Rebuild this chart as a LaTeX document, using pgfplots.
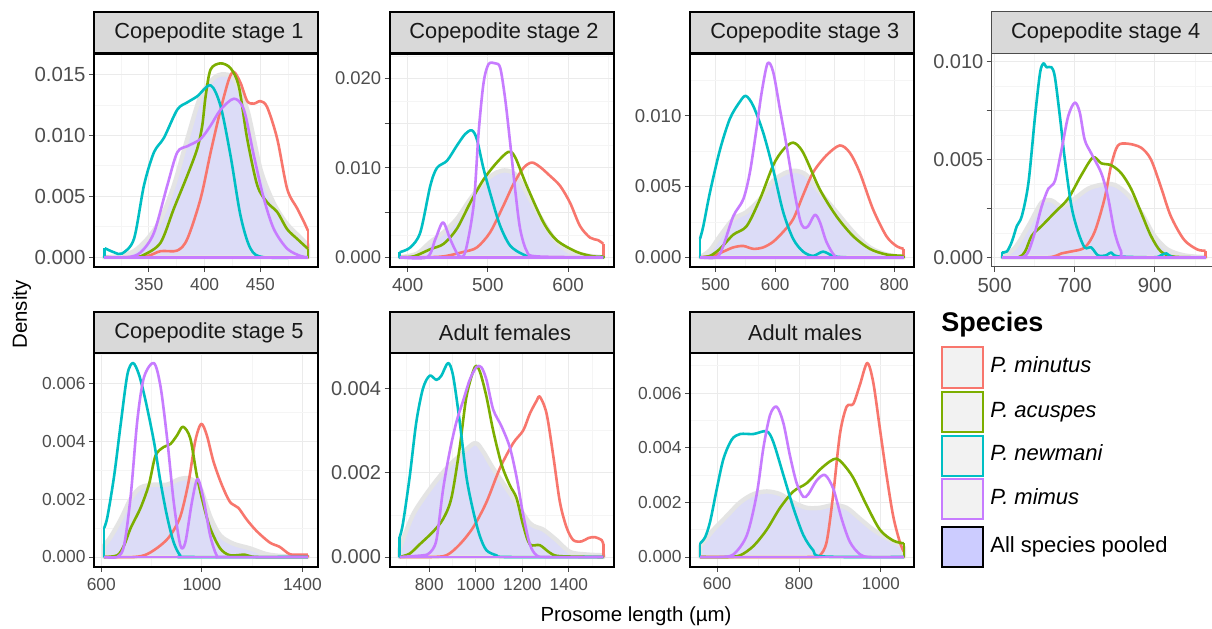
\documentclass[border=0pt]{standalone}
\usepackage{fontspec}
\setmainfont{Liberation Sans}
\usepackage{pgfplots}
\pgfplotsset{compat=1.18}
\definecolor{cmin}{HTML}{F8766D}
\definecolor{cacu}{HTML}{7CAE00}
\definecolor{cnew}{HTML}{00BFC4}
\definecolor{cmim}{HTML}{C77CFF}
\definecolor{lav}{HTML}{DCDCF7}
\definecolor{band}{HTML}{E4E4E4}
\definecolor{stripc}{HTML}{D9D9D9}
\definecolor{tickc}{HTML}{4D4D4D}
\definecolor{gridmaj}{HTML}{EBEBEB}
\definecolor{gridmin}{HTML}{F5F5F5}
\definecolor{keyfill}{HTML}{F2F2F2}
\definecolor{poolkey}{HTML}{CCCCFF}
\pgfplotsset{
  panel/.style={
    scale only axis, width=112pt, height=106.7pt, anchor=south west,
    axis line style={line width=1pt, black},
    tick align=outside, xtick pos=bottom, ytick pos=left,
    major tick length=2.5pt, minor tick length=0pt,
    tick style={line width=0.5pt, color=tickc},
    grid=both,
    major grid style={line width=0.5pt, color=gridmaj},
    minor grid style={line width=0.3pt, color=gridmin},
    scaled ticks=false,
    tick label style={color=tickc},
    xticklabel style={inner sep=3pt},
    yticklabel style={inner sep=1.5pt},
  },
  xf/.style={xticklabel style={font=\fontsize{#1}{12}\selectfont}},
  yf/.style={yticklabel style={font=\fontsize{#1}{12}\selectfont}},
  dens/.style={line width=1.3pt, line join=round},
  top/.style={dens, smooth, tension=0.5},
  pooled/.style={fill=lav, draw=band, line width=2.2pt, line join=round, smooth, tension=0.5},
}
\begin{document}
\begin{tikzpicture}
\useasboundingbox (0,0) rectangle (606pt,314pt);
\fill[white] (0,0) rectangle (606pt,314pt);

% ---------- Panel 1 ----------
\begin{axis}[panel, xf=8.7, yf=10.2, at={(47pt,180.5pt)},
  xmin=300.9, xmax=501.6, ymin=-0.0008, ymax=0.0167,
  xtick={350,400,450}, xticklabels={350,400,450}, minor xtick={325,375,425,475},
  ytick={0,0.005,0.01,0.015}, yticklabels={0.000,0.005,0.010,0.015}, minor ytick={0.0025,0.0075,0.0125}]
\addplot[pooled] coordinates {(310,0) (324,0.0001) (336.7,0.0005) (348.7,0.0015) (360.6,0.0031) (372.5,0.0059) (384.5,0.0097) (396.4,0.0132) (408.4,0.0147) (417.3,0.015) (426.3,0.0146) (438.2,0.0121) (450.1,0.0072) (462.1,0.0044) (474,0.0027) (486,0.0016) (492.5,0.001)} \closedcycle;
\addplot[top, cmin] coordinates {(310,0) (330,0) (348.7,0.0001) (360.6,0.0005) (375.5,0.00055) (384.5,0.0015) (396.4,0.0048) (405.4,0.0086) (414.3,0.0121) (421.8,0.0146) (426.3,0.0152) (432.2,0.0143) (438.2,0.0128) (444.2,0.0126) (450.1,0.0128) (456.1,0.0123) (465.1,0.0097) (474,0.0056) (483,0.004) (489,0.0029) (492.5,0.0022)};
\addplot[dens, cmin] coordinates {(492.5,0.0022) (492.5,0) (310,0)};
\addplot[top, cacu] coordinates {(310,0) (336.7,0) (345.7,0.0002) (360.6,0.0012) (372.5,0.004) (384.5,0.0067) (393.4,0.0089) (397.9,0.0108) (400.9,0.0132) (405.4,0.0154) (414.3,0.0159) (423.3,0.0155) (430.7,0.014) (438.2,0.0097) (447.2,0.0059) (456.1,0.0045) (465.1,0.0037) (474,0.0023) (483,0.0015) (492.5,0.0007)};
\addplot[dens, cacu] coordinates {(492.5,0.0007) (492.5,0) (310,0)};
\addplot[top, cnew] coordinates {(310.5,0.00074) (319,0.0004) (326,0.0003) (336.7,0.0015) (345.7,0.0059) (354.6,0.0086) (363.6,0.0098) (375.5,0.0121) (384.5,0.0127) (393.4,0.0132) (405.4,0.0141) (414.3,0.0124) (423.3,0.0083) (432.2,0.0034) (441.2,0.0007) (453.1,0) (492.5,0)};
\addplot[dens, cnew] coordinates {(492.5,0) (310.5,0) (310.5,0.00074)};
\addplot[top, cmim] coordinates {(310,0) (330.7,0) (342.7,0.0004) (354.6,0.002) (366.6,0.0059) (375.5,0.0086) (384.5,0.0091) (396.4,0.0097) (405.4,0.0108) (414.3,0.0121) (426.3,0.013) (435.2,0.0121) (444.2,0.0083) (453.1,0.0048) (462.1,0.0023) (474,0.0007) (486,0.0001) (492.5,0)};
\addplot[dens, cmim] coordinates {(492.5,0) (310,0)};
\end{axis}

% ---------- Panel 2 ----------
\begin{axis}[panel, xf=9.4, yf=9.2, at={(194.75pt,180.5pt)},
  xmin=377.3, xmax=656.7, ymin=-0.00109, ymax=0.02279,
  xtick={400,500,600}, xticklabels={400,500,600}, minor xtick={450,550,650},
  ytick={0,0.005,0.01,0.015,0.02}, yticklabels={0.000,,0.010,,0.020}, minor ytick={0.0025,0.0075,0.0125,0.0175,0.0225}]
\addplot[pooled] coordinates {(390,0) (411.6,0.0004) (428.2,0.0017) (444.8,0.0028) (461.4,0.0043) (478,0.0065) (494.6,0.0084) (511.2,0.0095) (523.7,0.0097) (536.1,0.0091) (552.7,0.0065) (569.3,0.0039) (585.9,0.0017) (602.5,0.0006) (623.3,0.0002) (644,0)} \closedcycle;
\addplot[top, cmin] coordinates {(390,0) (420,0) (444.8,0.0001) (469.7,0.0006) (486.3,0.0011) (502.9,0.0028) (519.5,0.0058) (532,0.0082) (544.4,0.01) (554.8,0.0106) (565.1,0.0101) (577.6,0.0091) (590,0.008) (602.5,0.0061) (614.9,0.0035) (627.4,0.0022) (637.8,0.0019) (644,0.0015)};
\addplot[dens, cmin] coordinates {(644,0.0015) (644,0) (390,0)};
\addplot[top, cacu] coordinates {(390,0) (407.5,0.0001) (428.2,0.0009) (444.8,0.0015) (461.4,0.0032) (478,0.0061) (494.6,0.0087) (511.2,0.0106) (525.7,0.0118) (534,0.0112) (548.5,0.008) (569.3,0.0039) (585.9,0.0019) (610.8,0.0006) (631.5,0.0001) (644,0.0001)};
\addplot[dens, cacu] coordinates {(644,0.0001) (644,0) (390,0)};
\addplot[top, cnew] coordinates {(390,0.00056) (403.3,0.0011) (415.8,0.0028) (428.2,0.008) (436.5,0.01) (449,0.0108) (461.4,0.0125) (471.8,0.0138) (480.1,0.0142) (486.3,0.0132) (494.6,0.0099) (505,0.0065) (515.4,0.0035) (527.8,0.0013) (544.4,0.0003) (561,0) (644,0)};
\addplot[dens, cnew] coordinates {(644,0) (390,0) (390,0.00056)};
\addplot[top, cmim] coordinates {(390,0) (424,0) (434.4,0.002) (444,0.0039) (453.1,0.002) (463.5,0.0002) (471.8,0.0006) (482.2,0.0058) (488.4,0.0139) (494.6,0.0195) (500.8,0.0216) (509.1,0.0217) (515.4,0.0212) (521.6,0.0177) (527.8,0.0128) (534,0.0076) (540.2,0.0032) (548.5,0.0007) (561,0.0001) (644,0)};
\addplot[dens, cmim] coordinates {(644,0) (390,0)};
\end{axis}

% ---------- Panel 3 ----------
\begin{axis}[panel, xf=8.6, yf=9.3, at={(344.9pt,180.5pt)},
  xmin=456.6, xmax=832.7, ymin=-0.000685, ymax=0.01439,
  xtick={500,600,700,800}, xticklabels={500,600,700,800}, minor xtick={550,650,750},
  ytick={0,0.005,0.01}, yticklabels={0.000,0.005,0.010}, minor ytick={0.0025,0.0075,0.0125}]
\addplot[pooled] coordinates {(473.7,0) (490.5,0.0005) (507.3,0.0015) (529.6,0.0027) (552,0.0032) (574.3,0.0041) (596.6,0.0054) (619,0.006) (635.8,0.0061) (652.5,0.0058) (674.9,0.0046) (702.8,0.0032) (730.7,0.0018) (758.7,0.0007) (786.6,0.0002) (815.6,0)} \closedcycle;
\addplot[top, cmin] coordinates {(473.7,0) (496,0.0001) (512.8,0.0004) (529.6,0.0007) (546.4,0.0008) (563.1,0.0006) (579.9,0.0007) (596.6,0.0011) (613.4,0.0018) (630.2,0.0027) (646.9,0.0044) (663.7,0.006) (686,0.0072) (708.4,0.0079) (725.1,0.0074) (741.9,0.006) (764.2,0.0034) (786.6,0.0015) (803.4,0.0008) (815.6,0.0006)};
\addplot[dens, cmin] coordinates {(815.6,0.0006) (815.6,0) (473.7,0)};
\addplot[top, cacu] coordinates {(473.7,0) (490.5,0.0001) (507.3,0.0006) (529.6,0.0016) (552,0.0022) (574.3,0.0041) (596.6,0.0065) (613.4,0.0076) (630.2,0.0081) (646.9,0.0074) (674.9,0.0048) (702.8,0.0029) (730.7,0.0015) (758.7,0.0006) (786.6,0.0002) (815.6,0.0001)};
\addplot[dens, cacu] coordinates {(815.6,0.0001) (815.6,0) (473.7,0)};
\addplot[top, cnew] coordinates {(473.7,0.0013) (479.3,0.0022) (490.5,0.0046) (507.3,0.0076) (524,0.0098) (540.8,0.011) (550.8,0.0114) (563.1,0.0107) (579.9,0.0088) (596.6,0.0062) (613.4,0.0032) (630.2,0.0013) (646.9,0.0004) (663.7,0.0001) (680.4,0.0004) (697.2,0.0001) (719.6,0) (815.6,0)};
\addplot[dens, cnew] coordinates {(815.6,0) (473.7,0) (473.7,0.0013)};
\addplot[top, cmim] coordinates {(473.7,0) (501.7,0) (512.8,0.0008) (529.6,0.0029) (546.4,0.0041) (557.5,0.006) (568.7,0.0091) (577.1,0.0116) (587.2,0.0137) (596.6,0.0131) (607.8,0.0105) (619,0.0079) (630.2,0.0051) (641.3,0.0027) (648,0.0021) (655.3,0.0022) (666.5,0.003) (674.9,0.0025) (686,0.0011) (700,0.0001) (714,0) (815.6,0)};
\addplot[dens, cmim] coordinates {(815.6,0) (473.7,0)};
\end{axis}

% ---------- Panel 4 ----------
\begin{axis}[panel, xf=10.2, yf=10, at={(495.85pt,180.5pt)}, axis line style={line width=0.5pt, black!70},
  xmin=492.6, xmax=1051.8, ymin=-0.000495, ymax=0.0104,
  xtick={500,700,900}, xticklabels={500,700,900}, minor xtick={600,800,1000},
  ytick={0,0.0025,0.005,0.0075,0.01}, yticklabels={0.000,,0.005,,0.010}, minor ytick={0.00125,0.00375,0.00625,0.00875}]
\addplot[pooled] coordinates {(518,0) (551.2,0.0005) (584.3,0.0016) (617.4,0.0028) (642.1,0.0029) (667,0.0026) (700,0.003) (733.1,0.0035) (766.1,0.0037) (799.2,0.0037) (832.2,0.0032) (865.3,0.0023) (898.3,0.0011) (931.4,0.0004) (972.7,0.0001) (1026.4,0)} \closedcycle;
\addplot[top, cmin] coordinates {(518,0) (633.9,0) (667,0.0002) (691.7,0.0003) (724.8,0.0005) (749.6,0.0013) (774.4,0.003) (790.9,0.0047) (807.4,0.0057) (832.2,0.0058) (865.3,0.0056) (890,0.005) (914.9,0.0036) (939.7,0.0021) (972.7,0.0009) (1005.8,0.0004) (1026.4,0.00034)};
\addplot[dens, cmin] coordinates {(1026.4,0.00034) (1026.4,0) (518,0)};
\addplot[top, cacu] coordinates {(518,0) (559.5,0) (576,0.0003) (592.6,0.0011) (617.4,0.0016) (650.4,0.0023) (683.5,0.003) (716.5,0.0042) (745.5,0.0051) (766.1,0.0048) (790.9,0.0047) (815.7,0.0043) (840.5,0.0035) (865.3,0.0023) (890,0.0011) (914.9,0.0003) (947.9,0.00003) (1026.4,0)};
\addplot[dens, cacu] coordinates {(1026.4,0) (518,0)};
\addplot[top, cnew] coordinates {(518,0.00025) (530.6,0.0003) (543,0.0008) (555.4,0.0016) (567.8,0.0021) (584.3,0.0038) (600.8,0.0072) (613.2,0.0094) (621.5,0.0099) (629.8,0.0097) (642.1,0.0097) (650.4,0.0092) (662.8,0.0072) (675.2,0.005) (691.7,0.0026) (708.3,0.0013) (724.8,0.0005) (741.3,0.0005) (757.9,0.0001) (778.5,0.0001) (790.9,0.00025) (807.4,0.00005) (898.3,0) (914.9,0.0001) (928.9,0.0002) (947.9,0) (1026.4,0)};
\addplot[dens, cnew] coordinates {(1026.4,0) (518,0) (518,0.00025)};
\addplot[top, cmim] coordinates {(518,0) (567.8,0) (584.3,0.0003) (600.8,0.0013) (617.4,0.0026) (633.9,0.0035) (650.4,0.0039) (667,0.0055) (683.5,0.0072) (700,0.0079) (712.4,0.0074) (724.8,0.006) (741.3,0.0053) (766.1,0.0043) (782.6,0.0031) (799.2,0.0013) (815.7,0.0003) (832.2,0) (1026.4,0)};
\addplot[dens, cmim] coordinates {(1026.4,0) (518,0)};
\end{axis}

% ---------- Panel 5 ----------
\begin{axis}[panel, xf=8.7, yf=8.7, at={(47pt,30.65pt)},
  xmin=570.8, xmax=1462.1, ymin=-0.000335, ymax=0.007035,
  xtick={600,1000,1400}, xticklabels={600,1000,1400}, minor xtick={800,1200},
  ytick={0,0.002,0.004,0.006}, yticklabels={0.000,0.002,0.004,0.006}, minor ytick={0.001,0.003,0.005,0.007}]
\addplot[pooled] coordinates {(611.3,0.0004) (637.7,0.0007) (677.2,0.0013) (716.7,0.002) (756.3,0.0024) (809,0.0025) (861.7,0.0025) (914.4,0.0027) (953.9,0.0027) (993.4,0.0024) (1032.9,0.0014) (1072.5,0.00075) (1125.2,0.00046) (1191,0.0003) (1256.9,0.0001) (1322.8,0.00003) (1421.6,0)} \closedcycle;
\addplot[top, cmin] coordinates {(611.3,0) (729.9,0) (782.6,0.0001) (835.3,0.0004) (874.8,0.00075) (914.4,0.0014) (947.3,0.0026) (973.6,0.004) (997.4,0.0046) (1019.8,0.0042) (1046.1,0.0033) (1079,0.0025) (1112,0.0019) (1144.9,0.0017) (1177.9,0.0013) (1217.4,0.0009) (1270,0.0005) (1309.6,0.00035) (1349.1,0.0001) (1388.7,0.00008) (1421.6,0.00008)};
\addplot[dens, cmin] coordinates {(1421.6,0.00008) (1421.6,0) (611.3,0)};
\addplot[top, cacu] coordinates {(611.3,0) (664,0.00006) (690.4,0.0004) (716.7,0.001) (756.3,0.0017) (789.2,0.0025) (815.6,0.0035) (848.5,0.0038) (874.8,0.0039) (901.2,0.0042) (924.9,0.0045) (953.9,0.0041) (980.2,0.0028) (1006.6,0.0018) (1032.9,0.001) (1072.5,0.0003) (1112,0.00006) (1171.3,0.00008) (1217.4,0) (1421.6,0)};
\addplot[dens, cacu] coordinates {(1421.6,0) (611.3,0)};
\addplot[top, cnew] coordinates {(611.3,0.001) (624.5,0.0014) (650.9,0.0028) (677.2,0.0046) (703.6,0.0063) (726,0.0067) (749.7,0.0063) (776,0.0054) (809,0.004) (835.3,0.0026) (861.7,0.0014) (888,0.0005) (914.4,0.00005) (940.7,0) (1421.6,0)};
\addplot[dens, cnew] coordinates {(1421.6,0) (611.3,0) (611.3,0.001)};
\addplot[top, cmim] coordinates {(611.3,0) (664,0) (690.4,0.0004) (716.7,0.0021) (743,0.0047) (769.4,0.0062) (809,0.0067) (835.3,0.0059) (861.7,0.0041) (888,0.0019) (914.4,0.0004) (934.1,0.0005) (960.5,0.0019) (982.9,0.0027) (1006.6,0.002) (1032.9,0.00075) (1059.3,0.00005) (1085.6,0) (1421.6,0)};
\addplot[dens, cmim] coordinates {(1421.6,0) (611.3,0)};
\end{axis}

% ---------- Panel 6 ----------
\begin{axis}[panel, xf=8.6, yf=10, at={(194.75pt,30.65pt)},
  xmin=629.25, xmax=1591.75, ymin=-0.00023, ymax=0.00483,
  xtick={800,1000,1200,1400}, xticklabels={800,1000,1200,1400}, minor xtick={700,900,1100,1300,1500},
  ytick={0,0.002,0.004}, yticklabels={0.000,0.002,0.004}, minor ytick={0.001,0.003}]
\addplot[pooled] coordinates {(673,0.0002) (730,0.001) (801.5,0.0016) (873.7,0.0021) (931,0.0024) (995.7,0.0027) (1031.6,0.0025) (1074.6,0.0021) (1160.7,0.0014) (1232.4,0.0008) (1290,0.00065) (1347,0.0004) (1404.6,0.00012) (1476,0.00006) (1548,0.00004)} \closedcycle;
\addplot[top, cmin] coordinates {(673,0) (802,0) (873.7,0.00004) (931.1,0.0003) (988.5,0.0007) (1045.9,0.0013) (1103.3,0.0021) (1160.7,0.0027) (1203.7,0.003) (1232.4,0.0034) (1261.1,0.0037) (1275.5,0.0038) (1304.2,0.0034) (1332.9,0.0024) (1361.5,0.0013) (1390.2,0.0007) (1419,0.0004) (1454.8,0.00037) (1483.5,0.00045) (1512.2,0.00047) (1540.9,0.0004) (1548,0.0003)};
\addplot[dens, cmin] coordinates {(1548,0.0003) (1548,0) (673,0)};
\addplot[top, cacu] coordinates {(673,0) (715.9,0.00008) (759,0.0003) (816.4,0.0006) (859.4,0.0009) (895.3,0.0014) (931.1,0.0026) (959.8,0.0038) (995.7,0.0045) (1017.2,0.0044) (1045.9,0.0038) (1074.6,0.003) (1110.5,0.0022) (1146.3,0.0017) (1175,0.0014) (1203.7,0.00075) (1232.4,0.0003) (1275.5,0.00028) (1318.5,0.0001) (1361.5,0.00002) (1548,0)};
\addplot[dens, cacu] coordinates {(1548,0) (673,0)};
\addplot[top, cnew] coordinates {(673,0.00047) (687.2,0.0008) (715.9,0.0019) (744.5,0.0032) (773.3,0.004) (802,0.0043) (830.7,0.0042) (852.2,0.0043) (880.9,0.0046) (902.4,0.0043) (931.1,0.0032) (959.8,0.0019) (988.5,0.0011) (1017.2,0.0005) (1045.9,0.00016) (1089,0.00004) (1132,0) (1548,0)};
\addplot[dens, cnew] coordinates {(1548,0) (673,0) (673,0.00047)};
\addplot[top, cmim] coordinates {(673,0) (773.3,0.00004) (802,0.0001) (830.7,0.0004) (859.4,0.0016) (888,0.0025) (916.7,0.0032) (945.4,0.0037) (974,0.0042) (1002.7,0.0045) (1024,0.0045) (1045.9,0.0042) (1074.6,0.0035) (1110.5,0.0031) (1146.3,0.0026) (1175,0.0019) (1203.7,0.001) (1232.4,0.0003) (1261.1,0.00004) (1304.2,0) (1548,0)};
\addplot[dens, cmim] coordinates {(1548,0) (673,0)};
\end{axis}

% ---------- Panel 7 ----------
\begin{axis}[panel, xf=8.5, yf=8.7, at={(345pt,30.65pt)},
  xmin=533.6, xmax=1081, ymin=-0.000355, ymax=0.007455,
  xtick={600,800,1000}, xticklabels={600,800,1000}, minor xtick={700,900},
  ytick={0,0.002,0.004,0.006}, yticklabels={0.000,0.002,0.004,0.006}, minor ytick={0.001,0.003,0.005,0.007}]
\addplot[pooled] coordinates {(558.5,0.0004) (566.7,0.00055) (591.1,0.001) (623.6,0.0015) (656.1,0.002) (688.6,0.0023) (721.1,0.0024) (753.7,0.0023) (786.2,0.002) (818.7,0.0018) (851.2,0.0018) (883.7,0.0019) (916.3,0.0018) (948.8,0.0014) (981.3,0.001) (1013.8,0.0007) (1056.1,0.00036)} \closedcycle;
\addplot[top, cmin] coordinates {(558.5,0) (835,0) (851.2,0.00006) (867.5,0.00055) (883.7,0.0023) (900,0.0045) (916.3,0.0055) (932.5,0.0056) (948.8,0.0063) (966.7,0.0071) (981.3,0.0064) (997.6,0.0047) (1013.8,0.003) (1030.1,0.0015) (1046.3,0.00055) (1056.1,0.0002)};
\addplot[dens, cmin] coordinates {(1056.1,0.0002) (1056.1,0) (558.5,0)};
\addplot[top, cacu] coordinates {(558.5,0) (623.6,0) (656.1,0.00006) (688.6,0.0004) (721.1,0.001) (753.7,0.0018) (786.2,0.0024) (818.7,0.0027) (851.2,0.0032) (875.6,0.0035) (891.9,0.0036) (908.1,0.0034) (932.5,0.0029) (965,0.0019) (997.6,0.001) (1030.1,0.0006) (1056.1,0.0005)};
\addplot[dens, cacu] coordinates {(1056.1,0.0005) (1056.1,0) (558.5,0)};
\addplot[top, cnew] coordinates {(558.5,0.0005) (570.7,0.00073) (582.9,0.0013) (599.2,0.0025) (615.5,0.0036) (635.8,0.0043) (656.1,0.0045) (688.6,0.0045) (721.1,0.0046) (737.4,0.0042) (761.8,0.003) (786.2,0.0018) (810.6,0.0008) (835,0.00024) (859.3,0.00002) (1056.1,0)};
\addplot[dens, cnew] coordinates {(1056.1,0) (558.5,0) (558.5,0.0005)};
\addplot[top, cmim] coordinates {(558.5,0) (607.3,0) (640.2,0.0001) (672.6,0.0008) (696.7,0.0023) (713,0.004) (729.3,0.0052) (745.5,0.0055) (761.8,0.0049) (778,0.0037) (794.3,0.0027) (810.6,0.0022) (822.8,0.0023) (843.1,0.0028) (863.4,0.003) (883.7,0.0025) (904.1,0.0014) (924.4,0.00055) (948.8,0.0001) (973.2,0) (1056.1,0)};
\addplot[dens, cmim] coordinates {(1056.1,0) (558.5,0)};
\end{axis}

% ---------- strips ----------
\tikzset{striptext/.style={font=\fontsize{10.9}{13}\selectfont, text=black!90}}
\draw[fill=stripc, draw=black, line width=1pt] (47pt,287.35pt) rectangle (159pt,308.15pt);
\node[striptext] at (104.5pt,297.75pt) {Copepodite stage 1};
\draw[fill=stripc, draw=black, line width=1pt] (194.75pt,287.35pt) rectangle (306.75pt,308.15pt);
\node[striptext] at (252pt,297.75pt) {Copepodite stage 2};
\draw[fill=stripc, draw=black, line width=1pt] (344.9pt,287.35pt) rectangle (456.9pt,308.15pt);
\node[striptext] at (402.4pt,297.75pt) {Copepodite stage 3};
\draw[fill=stripc, draw=black!70, line width=0.5pt] (495.85pt,287.35pt) rectangle (607.85pt,308.15pt);
\node[striptext] at (552.85pt,297.75pt) {Copepodite stage 4};
\draw[fill=stripc, draw=black, line width=1pt] (47pt,137.35pt) rectangle (159pt,158.15pt);
\node[striptext] at (104.5pt,147.75pt) {Copepodite stage 5};
\draw[fill=stripc, draw=black, line width=1pt] (194.75pt,137.35pt) rectangle (306.75pt,158.15pt);
\node[striptext] at (252.5pt,147.75pt) {Adult females};
\draw[fill=stripc, draw=black, line width=1pt] (345pt,137.35pt) rectangle (457pt,158.15pt);
\node[striptext] at (402.5pt,147.75pt) {Adult males};

% ---------- axis titles ----------
\node[font=\fontsize{10.2}{12}\selectfont] at (318pt,5.8pt) {Prosome length (µm)};
\node[font=\fontsize{10.2}{12}\selectfont, rotate=90] at (10.85pt,156.75pt) {Density};

% ---------- legend ----------
\node[anchor=west, font=\bfseries\fontsize{13.5}{16}\selectfont, inner sep=0pt] at (470.5pt,151.5pt) {Species};
\draw[fill=keyfill, draw=cmin, line width=1pt] (471pt,120pt) rectangle (491.5pt,140.5pt);
\draw[fill=keyfill, draw=cacu, line width=1pt] (471pt,98pt) rectangle (491.5pt,118pt);
\draw[fill=keyfill, draw=cnew, line width=1pt] (471pt,76.25pt) rectangle (491.5pt,96.25pt);
\draw[fill=keyfill, draw=cmim, line width=1pt] (471pt,54.5pt) rectangle (491.5pt,74.5pt);
\draw[fill=poolkey, draw=black, line width=1pt] (471pt,30.5pt) rectangle (491.5pt,50.5pt);
\tikzset{legtext/.style={anchor=west, inner sep=0pt, font=\fontsize{11}{13}\selectfont}}
\node[legtext] at (495pt,130.25pt) {\strut\itshape P. minutus};
\node[legtext] at (495pt,108pt) {\strut\itshape P. acuspes};
\node[legtext] at (495pt,86.25pt) {\strut\itshape P. newmani};
\node[legtext] at (495pt,64.5pt) {\strut\itshape P. mimus};
\node[legtext] at (495pt,40.5pt) {\strut All species pooled};
\end{tikzpicture}
\end{document}
